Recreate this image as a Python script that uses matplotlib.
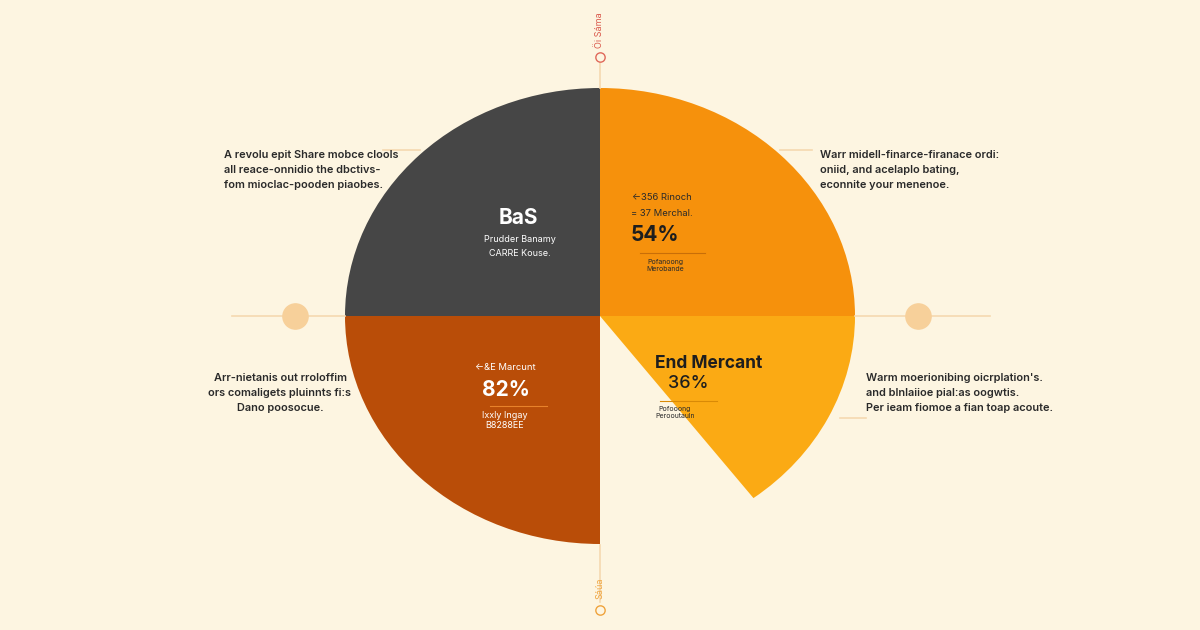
import numpy as np
import matplotlib.pyplot as plt

plt.rcParams['font.family'] = ['Inter', 'DejaVu Sans']

# slices (degrees, counter-clockwise from 3 o'clock); "gap" is left empty
slices = ["End Mercant top", "BaS", "Marcunt", "gap", "End Mercant"]
sizes = [90, 90, 90, 37, 53]
colors = ["#F6910C", "#464646", "#B94D08", "none", "#FBAA14"]

bg = "#FDF5E1"

fig = plt.figure(figsize=(12, 6.3), dpi=100, facecolor=bg)
ax = fig.add_axes([0, 0, 1, 1])
ax.set_facecolor(bg)
wedges, _ = ax.pie(sizes, colors=colors, startangle=0, counterclock=True,
                   wedgeprops=dict(linewidth=0))
wedges[3].set_visible(False)
ax.set_aspect('auto')
# pie centre at pixel (600, 316), radius 255 px wide, 228 px tall
ax.set_xlim(-600 / 255, 600 / 255)
ax.set_ylim(-314 / 228, 316 / 228)
ax.axis('off')

# overlay in pixel coordinates for labels and guide lines
ov = fig.add_axes([0, 0, 1, 1])
ov.set_xlim(0, 1200)
ov.set_ylim(630, 0)
ov.axis('off')
ov.patch.set_alpha(0)

guide = "#F5D9B0"
ov.plot([600, 600], [62, 88], color=guide, lw=1.2)
ov.plot([600, 600], [545, 602], color=guide, lw=1.2)
ov.plot([232, 282], [316, 316], color=guide, lw=1.2)
ov.plot([309, 345], [316, 316], color=guide, lw=1.2)
ov.plot([855, 905], [316, 316], color=guide, lw=1.2)
ov.plot([932, 990], [316, 316], color=guide, lw=1.2)
ov.plot([383, 420], [150, 150], color=guide, lw=1.2)
ov.plot([780, 812], [150, 150], color=guide, lw=1.2)
ov.plot([840, 866], [418, 418], color=guide, lw=1.2)
ov.scatter([295, 918], [316, 316], s=330, color="#F7D09A", zorder=3)
ov.scatter([600], [57], s=45, facecolor=bg, edgecolor="#E0685A", lw=1, zorder=3)
ov.scatter([600], [610], s=45, facecolor=bg, edgecolor="#EFA33C", lw=1, zorder=3)
ov.text(600, 30, "Öi Sáma", rotation=90, ha='center', va='center',
        fontsize=6.5, color="#D9574A")
ov.text(600, 588, "Sáúa", rotation=90, ha='center', va='center',
        fontsize=6.5, color="#EFA33C")

# side notes
dark = "#2A2A2A"
side = dict(fontsize=7.9, color=dark, linespacing=1.65, va='top', fontweight='semibold')
ov.text(224, 150, "A revolu epit Share mobce clools\nall reace-onnidio the dbctivs-\nfom mioclac-pooden piaobes.",
        ha='left', **side)
ov.text(820, 150, "Warr midell-finarce-firanace ordi:\noniid, and acelaplo bating,\neconnite your menenoe.",
        ha='left', **side)
ov.text(280, 373, "Arr-nietanis out rroloffim\nors comaligets pluinnts fi:s\nDano poosocue.",
        ha='center', **side)
ov.text(866, 373, "Warm moerionibing oicrplation's.\nand blnlaiioe pial:as oogwtis.\nPer ieam fiomoe a fian toap acoute.",
        ha='left', **side)

# dark wedge
ov.text(518, 218, "BaS", ha='center', va='center', fontsize=15, fontweight='bold', color="white")
ov.text(520, 240, "Prudder Banamy", ha='center', va='center', fontsize=6.5, color="white")
ov.text(520, 253, "CARRE Kouse.", ha='center', va='center', fontsize=6.5, color="white")

# orange wedge
ov.text(662, 197, "←356 Rinoch", ha='center', va='center', fontsize=6.8, color=dark)
ov.text(662, 213, "= 37 Merchal.", ha='center', va='center', fontsize=6.8, color=dark)
ov.text(655, 235, "54%", ha='center', va='center', fontsize=15, fontweight='bold', color="#1E1E1E")
ov.plot([640, 705], [253, 253], color="#C86E08", lw=0.8)
ov.text(665, 262, "Pofanoong", ha='center', va='center', fontsize=5, color=dark)
ov.text(665, 269, "Merobande", ha='center', va='center', fontsize=5, color=dark)

# brown wedge
ov.text(505, 367, "←&E Marcunt", ha='center', va='center', fontsize=6.8, color="white")
ov.text(506, 390, "82%", ha='center', va='center', fontsize=15, fontweight='bold', color="white")
ov.plot([490, 547], [406, 406], color="#E8822A", lw=0.8)
ov.text(505, 415, "Ixxly Ingay", ha='center', va='center', fontsize=6.5, color="white")
ov.text(505, 426, "B8288EE", ha='center', va='center', fontsize=6.5, color="white")

# yellow wedge
ov.text(709, 363, "End Mercant", ha='center', va='center', fontsize=12.5, fontweight='bold', color="#1E1E1E")
ov.text(688, 384, "36%", ha='center', va='center', fontsize=13, fontweight='medium', color="#1E1E1E")
ov.plot([660, 717], [401, 401], color="#D98A06", lw=0.8)
ov.text(675, 409, "Pofooong", ha='center', va='center', fontsize=5, color=dark)
ov.text(675, 416, "Perooutauln", ha='center', va='center', fontsize=5, color=dark)

fig.savefig("out.png", dpi=100, facecolor=bg)
